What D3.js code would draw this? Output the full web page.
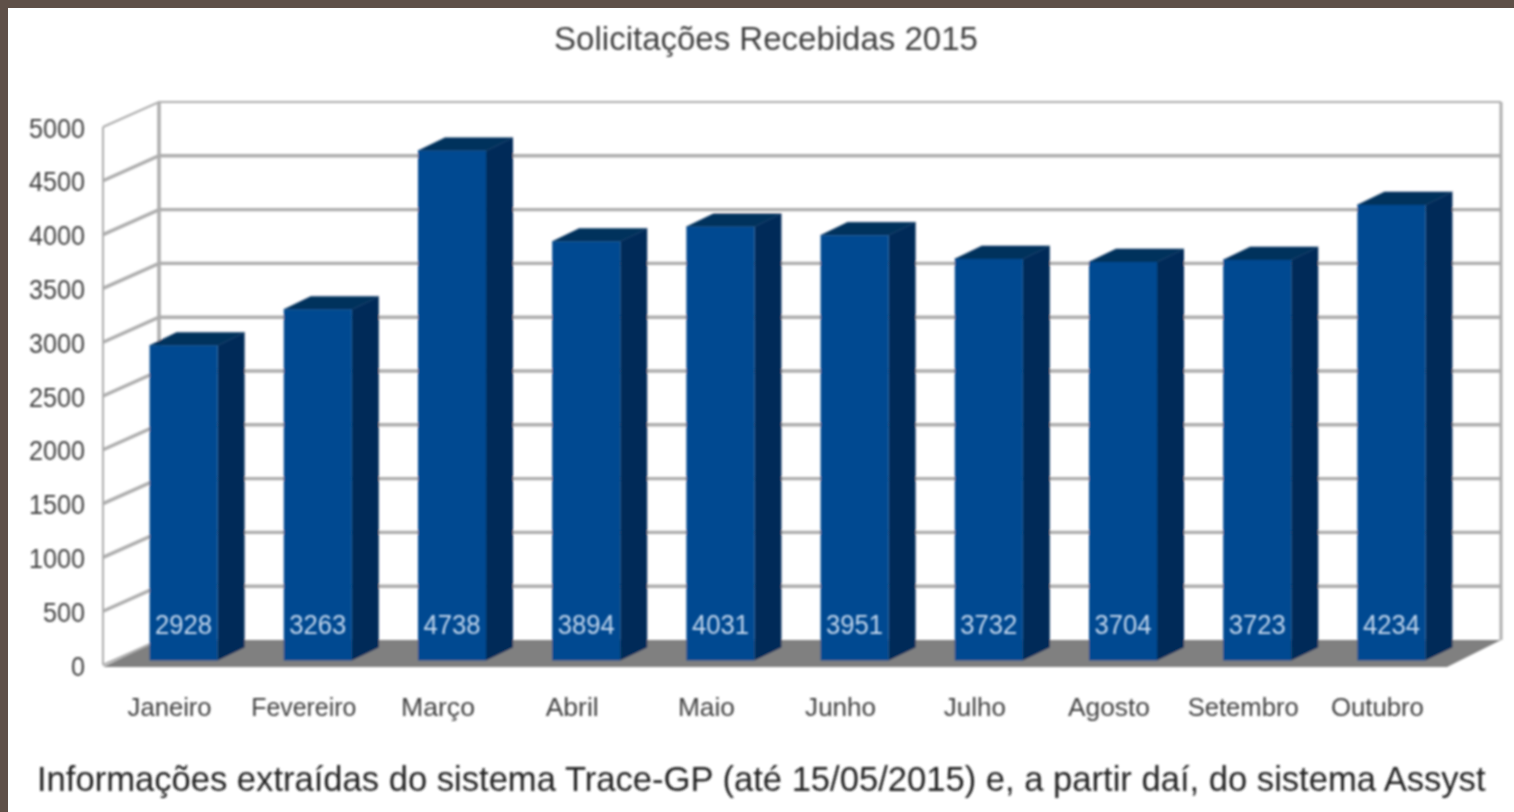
<!DOCTYPE html>
<html><head><meta charset="utf-8">
<script src="https://cdn.jsdelivr.net/npm/d3@7/dist/d3.min.js"></script>
<style>html,body{margin:0;padding:0;background:#fff;overflow:hidden}svg{display:block}text{font-family:"Liberation Sans",Arial,sans-serif}</style>
</head><body><svg id="c" width="1514" height="812"></svg>
<script>
const categories=["Janeiro","Fevereiro","Março","Abril","Maio","Junho","Julho","Agosto","Setembro","Outubro"];
const values=[2928,3263,4738,3894,4031,3951,3732,3704,3723,4234];
const yTicks=[0,500,1000,1500,2000,2500,3000,3500,4000,4500,5000];
const titleText="Solicitações Recebidas 2015";
const noteText="Informações extraídas do sistema Trace-GP (até 15/05/2015) e, a partir daí, do sistema Assyst";

const svg=d3.select("#c");
const defs=svg.append("defs");
defs.append("filter").attr("id","soft").attr("x","-5%").attr("y","-5%").attr("width","110%").attr("height","110%")
  .append("feGaussianBlur").attr("stdDeviation",1.1);
defs.append("filter").attr("id","softText").attr("x","-5%").attr("y","-20%").attr("width","110%").attr("height","140%")
  .append("feGaussianBlur").attr("stdDeviation",0.85);

// frame
svg.append("rect").attr("width",1514).attr("height",812).attr("fill","#5f5048");
svg.append("rect").attr("x",8).attr("y",8).attr("width",1506).attr("height",804).attr("fill","#fff");

const dx=56, dy=-25;              // full depth of the 3D box
const barDx=27, barDy=-13;        // depth of a bar
const y=d3.scaleLinear().domain([0,5000]).range([665,127]);
const x=d3.scaleBand().domain(categories).range([116.5,1458.5]).paddingInner(0.493).paddingOuter(0.2465);
const left=103, right=1445;
const barBase=y(0)-4.5;
const h=v=>y(0)-y(v);

const g=svg.append("g").attr("filter","url(#soft)");
const gridColor="#adadad";
// floor
g.append("polygon").attr("fill","#808080")
 .attr("points",[[left,y(0)+2],[right+2,y(0)+2],[right+dx,y(0)+dy],[left+dx,y(0)+dy]].join(" "));
// walls grid
g.append("line").attr("x1",left).attr("x2",left).attr("y1",y(5000)).attr("y2",y(0)).attr("stroke",gridColor).attr("stroke-width",2);
g.append("line").attr("x1",left+dx).attr("x2",left+dx).attr("y1",y(5000)+dy).attr("y2",y(0)+dy).attr("stroke",gridColor).attr("stroke-width",3.5);
g.append("line").attr("x1",right+dx).attr("x2",right+dx).attr("y1",y(5000)+dy).attr("y2",y(0)+dy).attr("stroke",gridColor).attr("stroke-width",3);
g.append("g").selectAll("path").data(yTicks.filter(d=>d>0)).join("path")
 .attr("fill","none").attr("stroke",gridColor).attr("stroke-width",d=>d===5000?2.2:3.4)
 .attr("d",d=>`M${left},${y(d)}L${left+dx},${y(d)+dy}L${right+dx},${y(d)+dy}`);
g.append("line").attr("x1",left).attr("x2",left+dx).attr("y1",y(0)).attr("y2",y(0)+dy).attr("stroke",gridColor).attr("stroke-width",2);

// bars
const bars=g.append("g").selectAll("g").data(categories.map((c,i)=>({c,v:values[i]}))).join("g");
bars.append("polygon").attr("fill","#00305c").attr("stroke","#00305c").attr("stroke-width",.5).attr("stroke-linejoin","round")
 .attr("points",d=>{const a=x(d.c),b=a+x.bandwidth(),t=barBase-h(d.v);return [[a,t],[b,t],[b+barDx,t+barDy],[a+barDx,t+barDy]].join(" ");});
bars.append("polygon").attr("fill","#002a58")
 .attr("points",d=>{const b=x(d.c)+x.bandwidth(),t=barBase-h(d.v);return [[b,t],[b+barDx,t+barDy],[b+barDx,barBase+barDy],[b,barBase]].join(" ");});
bars.append("rect").attr("fill","#004a91").attr("x",d=>x(d.c)).attr("width",x.bandwidth())
 .attr("y",d=>barBase-h(d.v)).attr("height",d=>h(d.v));

const t=svg.append("g").attr("filter","url(#softText)");
// value labels
t.append("g").selectAll("text").data(categories.map((c,i)=>({c,v:values[i]}))).join("text")
 .attr("x",d=>x(d.c)+x.bandwidth()/2).attr("y",634).attr("text-anchor","middle")
 .attr("font-size",27).attr("fill","#c4d8ee").attr("textLength",57).attr("lengthAdjust","spacingAndGlyphs")
 .text(d=>d.v);

// y axis
const yAxis=t.append("g").attr("transform","translate(85,0)")
 .call(d3.axisLeft(y).tickValues(yTicks).tickFormat(d3.format("d")).tickSize(0).tickPadding(0));
yAxis.select(".domain").remove();
yAxis.selectAll("text").attr("font-size",27).attr("fill","#404040").attr("font-family","Liberation Sans")
 .attr("dy",null).attr("dominant-baseline",null).attr("y",10)
 .attr("textLength",d=>String(d).length*14).attr("lengthAdjust","spacingAndGlyphs");

// x axis
const xAxis=t.append("g").attr("transform","translate(-14,716)")
 .call(d3.axisBottom(x).tickSize(0).tickPadding(0));
xAxis.select(".domain").remove();
xAxis.selectAll("text").attr("font-size",26).attr("fill","#404040").attr("font-family","Liberation Sans")
 .attr("y",0).attr("dy",0)
 .attr("textLength",d=>({Janeiro:84,Fevereiro:105,"Março":74,Abril:53,Maio:57,Junho:71,Julho:62,Agosto:82,Setembro:111,Outubro:93})[d])
 .attr("lengthAdjust","spacingAndGlyphs");

// title and note
t.append("text").attr("x",766).attr("y",50).attr("text-anchor","middle").attr("font-size",33).attr("fill","#404040").text(titleText);
t.append("text").attr("x",37).attr("y",791).attr("font-size",34.6).attr("fill","#222").text(noteText);
</script></body></html>
